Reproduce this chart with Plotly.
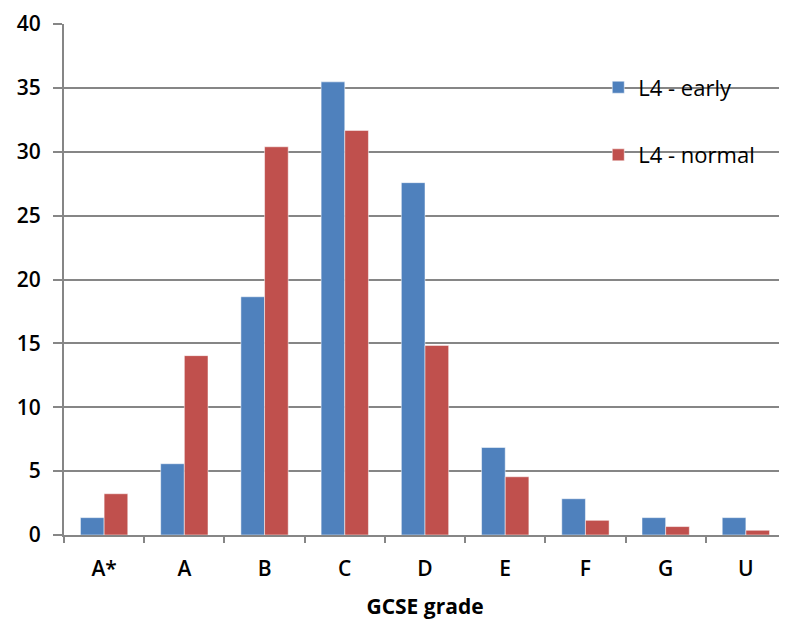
import plotly.graph_objects as go

categories = ["A*", "A", "B", "C", "D", "E", "F", "G", "U"]
early = [1.36, 5.58, 18.65, 35.47, 27.58, 6.85, 2.84, 1.36, 1.36]
normal = [3.23, 14.04, 30.39, 31.67, 14.84, 4.56, 1.15, 0.66, 0.37]
y_ticks = [0, 5, 10, 15, 20, 25, 30, 35, 40]

font_family = "Open Sans"
tick_font = dict(family=font_family, size=21, color="black", weight=600)

fig = go.Figure()
fig.add_trace(go.Bar(x=categories, y=early, name="L4 - early", legendgroup="a",
                     marker=dict(color="#4F81BD", line=dict(color="rgba(255,255,255,0.5)", width=1))))
fig.add_trace(go.Bar(x=categories, y=normal, name="L4 - normal", legendgroup="b",
                     marker=dict(color="#C0504D", line=dict(color="rgba(255,255,255,0.5)", width=1))))

fig.update_layout(
    width=779, height=613,
    margin=dict(l=56, r=1, t=16, b=86, autoexpand=False),
    paper_bgcolor="white", plot_bgcolor="white",
    barmode="group", bargap=0.41, bargroupgap=0,
    font=dict(family=font_family, size=21, color="black"),
    showlegend=True,
    legend=dict(x=0.74, y=0.917, xanchor="left", yanchor="top",
                bgcolor="rgba(0,0,0,0)", traceorder="grouped", tracegroupgap=36,
                font=dict(family=font_family, size=22, color="black", weight=500),
                itemwidth=30),
    xaxis=dict(
        title=dict(text="GCSE grade", font=dict(family=font_family, size=21, color="black", weight=700), standoff=18),
        showline=True, linecolor="#868686", linewidth=2,
        ticks="outside", tickson="boundaries", ticklen=6, tickcolor="#868686", tickwidth=2,
        tickfont=tick_font, ticklabelstandoff=14,
        showgrid=False,
    ),
    yaxis=dict(
        range=[0, 40], tickvals=y_ticks,
        showline=True, linecolor="#868686", linewidth=2,
        ticks="outside", ticklen=9, tickcolor="#868686", tickwidth=2,
        showgrid=True, gridcolor="#868686", gridwidth=2,
        tickfont=tick_font, ticklabelstandoff=8,
        zeroline=False,
    ),
)

fig.write_html("out.html")
